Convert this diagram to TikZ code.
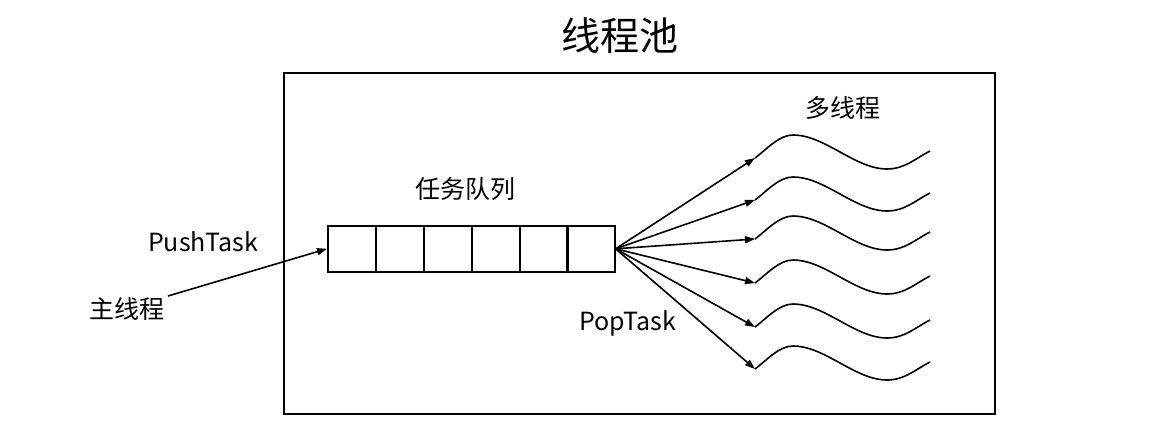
\documentclass[tikz,border=0pt]{standalone}
\usepackage{fontspec}
\setmainfont{Noto Sans CJK SC}
\usetikzlibrary{arrows.meta}
\begin{document}
\begin{tikzpicture}[x=1pt,y=-1pt,
  lbl/.style={font=\fontsize{25}{28}\selectfont, inner sep=0pt},
  cell/.style={draw, line width=1.6pt, minimum width=48pt, minimum height=46pt, inner sep=0pt, anchor=north west},
  arr/.style={line width=1.6pt, -{Triangle[length=10pt,width=7pt]}},
  wave/.style={line width=1.6pt}]
\useasboundingbox (0,0) rectangle (1155,447);
\node[draw, line width=1.7pt, minimum width=711pt, minimum height=341pt, anchor=north west, inner sep=0pt] (pool) at (283,72) {};
\node[font=\fontsize{39}{42}\selectfont, inner sep=0pt] (title) at (620,36) {线程池};
\foreach \xx [count=\i from 0] in {327,375,423,471,519,566} {
  \node[cell] (c\i) at (\xx,225) {};
}
\node[lbl] (queue) at (465,189) {任务队列};
\node[lbl] (push) at (203,242) {PushTask};
\node[lbl] (main) at (127,309) {主线程};
\node[lbl] (pop) at (628,323) {PopTask};
\node[lbl] (multi) at (843,108) {多线程};
\coordinate (src) at (c5.east);
\coordinate (mstart) at (168,296);
\draw[arr] (mstart) -- (c0.west);
\foreach \y [count=\k] in {158,200,239,283,327,369} {
  \coordinate (w\k) at (755,\y);
  \draw[arr] (src) -- (w\k);
  \draw[wave] (w\k) .. controls +(12,-9) and +(-14,0) .. ++(38,-23)
     .. controls +(32,0) and +(-32,0) .. ++(94,34)
     .. controls +(18,0) and +(-14,7) .. ++(43,-18);
}
\end{tikzpicture}
\end{document}
